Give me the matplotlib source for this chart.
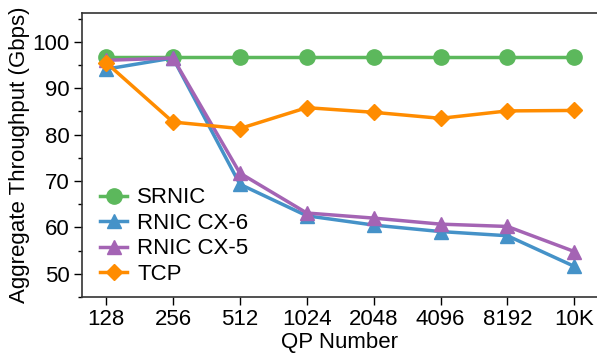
import matplotlib
matplotlib.use('Agg')
import matplotlib.pyplot as plt
from matplotlib.ticker import MultipleLocator

plt.rcParams['font.family'] = ['Liberation Sans', 'DejaVu Sans']

# data
qp_labels = ['128', '256', '512', '1024', '2048', '4096', '8192', '10K']
srnic = [96.7, 96.7, 96.7, 96.7, 96.7, 96.7, 96.7, 96.7]
rnic_cx6 = [94.1, 96.5, 69.3, 62.5, 60.5, 59.1, 58.2, 51.6]
rnic_cx5 = [96.0, 96.5, 71.7, 63.1, 62.0, 60.7, 60.2, 54.8]
tcp = [95.5, 82.7, 81.3, 85.8, 84.8, 83.5, 85.1, 85.2]

x = list(range(len(qp_labels)))

fig = plt.figure(figsize=(5.97, 3.55), dpi=100)
ax = fig.add_axes([0.1374, 0.1634, 0.8626, 0.8])

ax.plot(x, srnic, color='#5cb85c', marker='o', markersize=11, lw=2.5, label='SRNIC')
ax.plot(x, rnic_cx6, color='#4592c8', marker='^', markersize=10, lw=2.5, label='RNIC CX-6')
ax.plot(x, rnic_cx5, color='#a464b4', marker='^', markersize=10, lw=2.5, label='RNIC CX-5')
ax.plot(x, tcp, color='#ff8c00', marker='D', markersize=8, lw=2.5, label='TCP')

ax.set_xlim(-0.36, 7.34)
ax.set_ylim(45, 106.2)
ax.set_xticks(x)
ax.set_xticklabels(qp_labels)
ax.yaxis.set_major_locator(MultipleLocator(10))
ax.yaxis.set_minor_locator(MultipleLocator(5))
ax.tick_params(axis='both', which='major', labelsize=16, length=6, width=1, pad=3)
ax.tick_params(axis='y', which='minor', length=3, width=1)
ax.spines['right'].set_visible(False)
for s in ['left', 'bottom', 'top']:
    ax.spines[s].set_linewidth(1.2)
    ax.spines[s].set_color('#333333')

ax.set_xlabel('QP Number', fontsize=16, labelpad=1)
ax.set_ylabel('Aggregate Throughput (Gbps)', fontsize=16, labelpad=2)

ax.legend(loc='lower left', bbox_to_anchor=(0.012, 0.0), frameon=False, fontsize=16,
          handlelength=1.2, handletextpad=0.45, labelspacing=0.2, borderaxespad=0.15)

fig.savefig('out.png', dpi=100)
